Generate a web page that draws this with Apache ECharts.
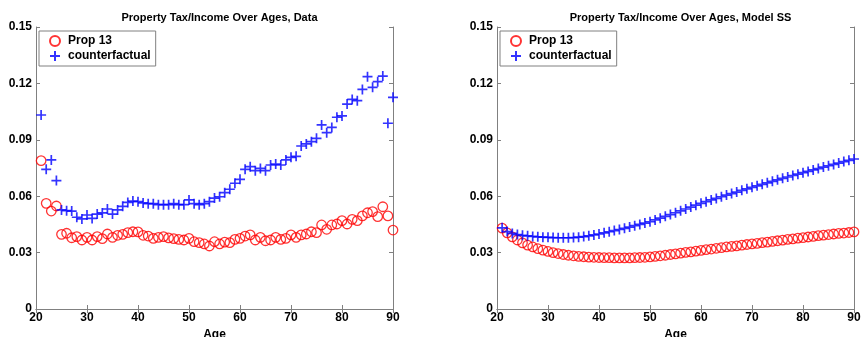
<!DOCTYPE html>
<html>
<head>
<meta charset="utf-8">
<script src="https://cdn.jsdelivr.net/npm/echarts@6/dist/echarts.min.js"></script>
<style>
html, body { margin: 0; padding: 0; background: #fff; }
#main { width: 862px; height: 337px; }
</style>
</head>
<body>
<div id="main"></div>
<script>
var ages = [];
for (var a = 21; a <= 90; a++) ages.push(a);

// Data panel
var propData = [0.0789, 0.0562, 0.0521, 0.0548, 0.0397, 0.0403, 0.0379, 0.0385, 0.0367, 0.0381,
	0.0367, 0.0385, 0.0374, 0.0399, 0.0381, 0.0392, 0.0397, 0.0406, 0.0411, 0.0410,
	0.0392, 0.0388, 0.0376, 0.0381, 0.0385, 0.0378, 0.0374, 0.0370, 0.0367, 0.0376,
	0.0358, 0.0353, 0.0346, 0.0335, 0.0358, 0.0346, 0.0356, 0.0353, 0.0370, 0.0376,
	0.0388, 0.0394, 0.0367, 0.0381, 0.0363, 0.0367, 0.0381, 0.0370, 0.0376, 0.0394,
	0.0381, 0.0394, 0.0399, 0.0411, 0.0406, 0.0447, 0.0424, 0.0447, 0.0452, 0.0470,
	0.0452, 0.0477, 0.0470, 0.0495, 0.0512, 0.0518, 0.0491, 0.0544, 0.0495, 0.0420];
var cfData = [0.1032, 0.0743, 0.0793, 0.0683, 0.0527, 0.0523, 0.0521, 0.0488, 0.0479, 0.0500,
	0.0482, 0.0505, 0.0511, 0.0532, 0.0505, 0.0527, 0.0546, 0.0567, 0.0574, 0.0571,
	0.0564, 0.0560, 0.0560, 0.0555, 0.0555, 0.0555, 0.0560, 0.0555, 0.0555, 0.0580,
	0.0560, 0.0555, 0.0560, 0.0571, 0.0590, 0.0597, 0.0619, 0.0637, 0.0669, 0.0690,
	0.0743, 0.0757, 0.0736, 0.0748, 0.0736, 0.0766, 0.0771, 0.0766, 0.0793, 0.0807,
	0.0812, 0.0867, 0.0878, 0.0890, 0.0908, 0.0979, 0.0938, 0.0966, 0.1020, 0.1027,
	0.1090, 0.1115, 0.1108, 0.1168, 0.1236, 0.1179, 0.1209, 0.1239, 0.0988, 0.1126];

// Model SS panel
var propModel = [0.0430, 0.0405, 0.0384, 0.0367, 0.0352, 0.0340, 0.0330, 0.0321, 0.0313, 0.0306,
	0.0300, 0.0295, 0.0290, 0.0286, 0.0283, 0.0280, 0.0278, 0.0276, 0.0275, 0.0274,
	0.0273, 0.0273, 0.0272, 0.0272, 0.0272, 0.0272, 0.0273, 0.0274, 0.0275, 0.0277,
	0.0280, 0.0283, 0.0286, 0.0290, 0.0293, 0.0297, 0.0301, 0.0304, 0.0308, 0.0312,
	0.0316, 0.0319, 0.0323, 0.0326, 0.0330, 0.0333, 0.0336, 0.0340, 0.0343, 0.0346,
	0.0349, 0.0353, 0.0356, 0.0360, 0.0363, 0.0366, 0.0370, 0.0373, 0.0377, 0.0380,
	0.0383, 0.0386, 0.0390, 0.0393, 0.0396, 0.0399, 0.0402, 0.0404, 0.0407, 0.0410];
var cfModel = [0.0432, 0.0412, 0.0402, 0.0396, 0.0392, 0.0389, 0.0386, 0.0384, 0.0382, 0.0381,
	0.0380, 0.0379, 0.0379, 0.0379, 0.0380, 0.0382, 0.0385, 0.0389, 0.0394, 0.0399,
	0.0405, 0.0411, 0.0417, 0.0423, 0.0429, 0.0436, 0.0443, 0.0450, 0.0457, 0.0464,
	0.0474, 0.0483, 0.0493, 0.0502, 0.0512, 0.0522, 0.0532, 0.0542, 0.0552, 0.0562,
	0.0571, 0.0580, 0.0588, 0.0597, 0.0606, 0.0614, 0.0622, 0.0631, 0.0639, 0.0647,
	0.0655, 0.0663, 0.0671, 0.0679, 0.0687, 0.0695, 0.0702, 0.0710, 0.0717, 0.0725,
	0.0732, 0.0740, 0.0747, 0.0755, 0.0762, 0.0769, 0.0776, 0.0784, 0.0791, 0.0798];

var titles = ['Property Tax/Income Over Ages, Data', 'Property Tax/Income Over Ages, Model SS'];

var fam = 'Liberation Sans, Arial, Helvetica, sans-serif';
var axisGray = '#808080';
var plusPath = 'path://M0,5L10,5M5,0L5,10';

function pairs(ys) {
	return ys.map(function (v, i) { return [ages[i], v]; });
}

var gridLefts = [36, 497];
var grids = [], xAxes = [], yAxes = [], series = [], titleList = [], legends = [];

gridLefts.forEach(function (left, g) {
	grids.push({ left: left, top: 27, width: 357, height: 282, outerBoundsMode: 'none' });
	var lineSt = { show: true, lineStyle: { color: axisGray, width: 1 } };
	var tickSt = { show: true, inside: true, length: 4, lineStyle: { color: axisGray } };
	xAxes.push({
		gridIndex: g, type: 'value', min: 20, max: 90, interval: 10, position: 'bottom',
		name: 'Age', nameLocation: 'middle', nameGap: 16,
		nameTextStyle: { color: '#000', fontWeight: 'bold', fontSize: 12, fontFamily: fam },
		axisLine: lineSt, axisTick: tickSt, splitLine: { show: false },
		axisLabel: { color: '#000', fontWeight: 'bold', fontSize: 12, fontFamily: fam, margin: 3 }
	});
	xAxes.push({
		gridIndex: g, type: 'value', min: 20, max: 90, interval: 10, position: 'top',
		axisLine: lineSt, axisTick: tickSt, splitLine: { show: false }, axisLabel: { show: false }
	});
	yAxes.push({
		gridIndex: g, type: 'value', min: 0, max: 0.15, interval: 0.03, position: 'left',
		axisLine: lineSt, axisTick: tickSt, splitLine: { show: false },
		axisLabel: { color: '#000', fontWeight: 'bold', fontSize: 12, fontFamily: fam, margin: 4 }
	});
	yAxes.push({
		gridIndex: g, type: 'value', min: 0, max: 0.15, interval: 0.03, position: 'right',
		axisLine: lineSt, axisTick: tickSt, splitLine: { show: false }, axisLabel: { show: false }
	});
	titleList.push({
		text: titles[g], left: left + 178.5, top: 7, textAlign: 'center',
		textStyle: { color: '#000', fontWeight: 'bold', fontSize: 11, fontFamily: fam }
	});
	legends.push({
		left: left + 3, top: 4 + 27, orient: 'vertical',
		backgroundColor: '#fff', borderColor: axisGray, borderWidth: 1,
		padding: [4, 5, 4, 10], itemGap: 3, itemWidth: 16, itemHeight: 10,
		textStyle: { color: '#000', fontWeight: 'bold', fontSize: 12, fontFamily: fam },
		data: ['Prop 13', 'counterfactual']
	});
});

var sets = [[propData, cfData], [propModel, cfModel]];
sets.forEach(function (s, g) {
	series.push({
		name: 'Prop 13', type: 'scatter', xAxisIndex: g * 2, yAxisIndex: g * 2,
		symbol: 'circle', symbolSize: 9.5,
		itemStyle: { color: 'rgba(0,0,0,0)', borderColor: '#ff0000', borderWidth: 1.3 },
		data: pairs(s[0])
	});
	series.push({
		name: 'counterfactual', type: 'scatter', xAxisIndex: g * 2, yAxisIndex: g * 2,
		symbol: plusPath, symbolSize: 10,
		itemStyle: { color: 'rgba(0,0,0,0)', borderColor: '#0000ff', borderWidth: 1.7 },
		data: pairs(s[1])
	});
});

var myChart = echarts.init(document.getElementById('main'));
myChart.setOption({
	animation: false,
	title: titleList,
	legend: legends,
	grid: grids,
	xAxis: xAxes,
	yAxis: yAxes,
	series: series
});
</script>
</body>
</html>
